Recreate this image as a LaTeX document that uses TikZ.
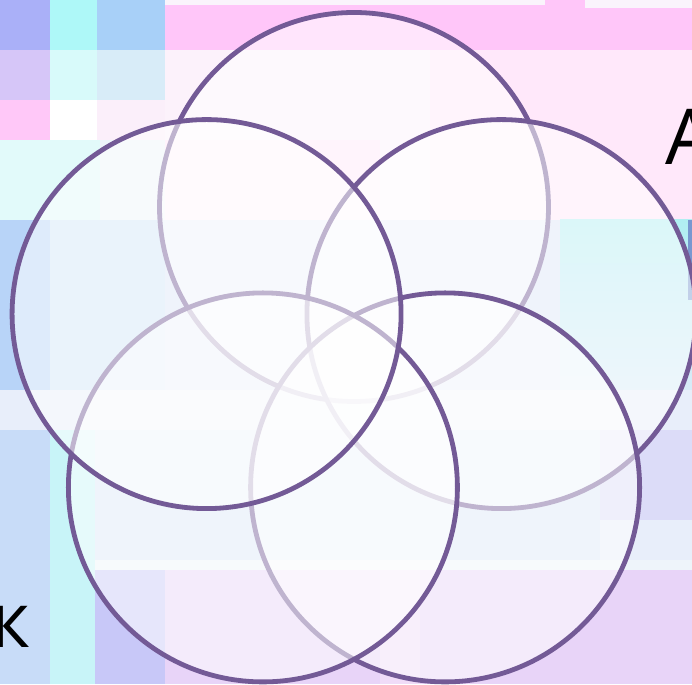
\documentclass[tikz,border=0pt]{standalone}
\usepackage{fontspec}
\setmainfont{Open Sans}
\definecolor{ringline}{RGB}{115,90,150}
\definecolor{bgbase}{HTML}{EEF0FA}
\definecolor{tA}{HTML}{AAB0F8}
\definecolor{tB}{HTML}{AEF8F8}
\definecolor{tC}{HTML}{A8D0F8}
\definecolor{tP}{HTML}{FFC6F9}
\definecolor{tW}{HTML}{FAF4FC}
\definecolor{lav}{HTML}{D6C6F8}
\definecolor{cyA}{HTML}{D8FAFA}
\definecolor{blA}{HTML}{D8ECF8}
\definecolor{pkA}{HTML}{FFE8FA}
\definecolor{pkL}{HTML}{FCF2FB}
\definecolor{pkB}{HTML}{FFC8F8}
\definecolor{pkW}{HTML}{FBEFFA}
\definecolor{cyW}{HTML}{E2FAFA}
\definecolor{blW}{HTML}{EEF4FA}
\definecolor{blB}{HTML}{B8D4F8}
\definecolor{blC}{HTML}{D2E6F8}
\definecolor{blM}{HTML}{DDE6F8}
\definecolor{blS}{HTML}{E8EEFA}
\definecolor{blD}{HTML}{C8DCF8}
\definecolor{cyB}{HTML}{C8F4F8}
\definecolor{blE}{HTML}{DCE8F8}
\definecolor{lavR}{HTML}{DCDCF8}
\definecolor{vio}{HTML}{C8C8F8}
\definecolor{puA}{HTML}{E8D4F8}
\definecolor{puB}{HTML}{F0DCF8}
\definecolor{cyR}{HTML}{B0EEF2}
\definecolor{edge}{HTML}{7898D0}

\begin{document}
\begin{tikzpicture}[x=1pt,y=1pt,
  ring/.style={circle,draw=ringline,line width=4.8pt,fill=white,fill opacity=.55,
    minimum size=389pt,inner sep=0pt},
  letter/.style={font=\fontsize{77}{90}\selectfont,text=black,inner sep=0pt,anchor=base west}]
  \useasboundingbox (0,0) rectangle (692,684);
  \clip (0,0) rectangle (692,684);
  \begin{scope}[shift={(0,684)},yscale=-1]
    \foreach \c/\xa/\ya/\xb/\yb in {bgbase/0/0/692/684,
      tA/0/0/50/50, tB/50/0/97/50, tC/97/0/165/50, tP/165/0/692/50,
      tW/165/0/545/5, tW/585/0/692/8,
      lav/0/50/50/100, cyA/50/50/97/100, blA/97/50/165/100, pkA/165/50/692/220,
      pkL/165/50/430/140, pkL/380/140/430/220,
      pkB/0/100/50/140, white/50/100/97/140, pkW/97/100/165/140,
      cyW/0/140/100/220, blW/100/140/165/220,
      blB/0/220/50/390, blC/50/220/165/390, blM/165/220/560/390,
      blS/0/390/692/430,
      blD/0/430/50/684, cyB/50/430/95/684, blE/95/430/600/560,
      lavR/600/430/692/520, blS/600/520/692/570,
      blW/95/560/692/570, vio/95/570/165/684, puA/165/570/692/684, puB/380/570/420/684}
      \fill[\c] (\xa,\ya) rectangle (\xb,\yb);
    \shade[top color=cyR,bottom color=blA] (560,220) rectangle (692,390);
    \fill[edge] (688,220) rectangle (692,300);
  \end{scope}
  \begin{scope}[shift={(354,322)}]
    \foreach \i/\a in {1/90,2/18,3/-54,4/-126,5/-198}
      \node[ring] (c\i) at (\a:155) {};
  \end{scope}
  \node[letter] (la) at (665,519) {A};
  \node[letter] (lk) at (-10,36) {к};
\end{tikzpicture}
\end{document}
